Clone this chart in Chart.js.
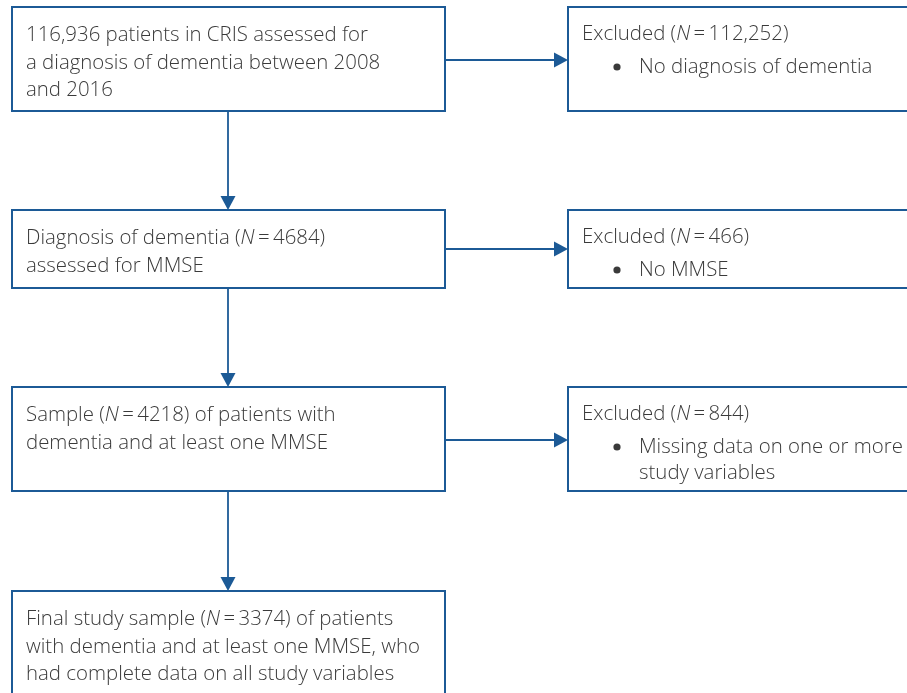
<!DOCTYPE html>
<html>
<head>
<meta charset="utf-8">
<title>Study flow</title>
<script src="https://cdn.jsdelivr.net/npm/chart.js@4.4.1/dist/chart.umd.min.js"></script>
<style>
  html, body { margin: 0; padding: 0; background: #fff; }
  #wrap { width: 907px; height: 693px; }
</style>
</head>
<body>
<div id="wrap"><canvas id="flow" width="907" height="693"></canvas></div>
<script>
// ===============================
// DATA
// ===============================

const stageCounts = [116936, 4684, 4218, 3374];
const excludedCounts = [112252, 466, 844];
const studyYears = [2008, 2016];
const excludedReasons = [
  ["No diagnosis of dementia"],
  ["No MMSE"],
  ["Missing data on one or more", "study variables"]
];

// ===============================
// LAYOUT (scale units = px of the 907x693 page)
// ===============================

const BLUE = "#1c5a96";
const TEXT = "#3a3a3a";
const FONT = "'Open Sans', 'Noto Sans', sans-serif";
const FONT_WEIGHT = 300;
const FONT_SIZE = 21;
const FIRST_LINE_WIDTH = 342;   // width of the first line in the picture

const leftCol = { x0: 12, x1: 445, arrowX: 228 };
const rightCol = { x0: 568, x1: 920 };
const rows = [
  { top: 7, bottom: 111, arrowY: 60 },
  { top: 210, bottom: 288, arrowY: 249 },
  { top: 387, bottom: 491, arrowY: 440 },
  { top: 591, bottom: 705 }
];

function fmt(n) {
  return n >= 10000 ? n.toLocaleString("en-US") : String(n);
}

function nTag(n) {
  return ["(", { i: "N" }, "\u2009=\u2009" + fmt(n) + ")"];
}

const stageLines = [
  [
    [fmt(stageCounts[0]) + " patients in CRIS assessed for"],
    ["a diagnosis of dementia between " + studyYears[0]],
    ["and " + studyYears[1]]
  ],
  [
    ["Diagnosis of dementia ", ...nTag(stageCounts[1])],
    ["assessed for MMSE"]
  ],
  [
    ["Sample ", ...nTag(stageCounts[2]), " of patients with"],
    ["dementia and at least one MMSE"]
  ],
  [
    ["Final study sample ", ...nTag(stageCounts[3]), " of patients"],
    ["with dementia and at least one MMSE, who"],
    ["had complete data on all study variables"]
  ]
];

// ===============================
// DRAWING HELPERS
// ===============================

let squeeze = 1;

function setFont(ctx, italic) {
  ctx.font = (italic ? "italic " : "") + FONT_WEIGHT + " " + FONT_SIZE + "px " + FONT;
}

function drawLine(ctx, segs, x, y) {
  ctx.save();
  ctx.translate(x, y);
  ctx.scale(squeeze, 1);
  let cx = 0;
  segs.forEach(seg => {
    const italic = typeof seg !== "string";
    const t = italic ? seg.i : seg;
    setFont(ctx, italic);
    ctx.fillText(t, cx, 0);
    cx += ctx.measureText(t).width;
  });
  ctx.restore();
}

function arrowDown(ctx, x, y0, y1) {
  ctx.beginPath();
  ctx.moveTo(x, y0);
  ctx.lineTo(x, y1 - 10);
  ctx.stroke();
  ctx.beginPath();
  ctx.moveTo(x - 7.5, y1 - 14);
  ctx.lineTo(x + 7.5, y1 - 14);
  ctx.lineTo(x, y1);
  ctx.closePath();
  ctx.fill();
}

function arrowRight(ctx, x0, x1, y) {
  ctx.beginPath();
  ctx.moveTo(x0, y);
  ctx.lineTo(x1 - 10, y);
  ctx.stroke();
  ctx.beginPath();
  ctx.moveTo(x1 - 14, y - 7.5);
  ctx.lineTo(x1 - 14, y + 7.5);
  ctx.lineTo(x1, y);
  ctx.closePath();
  ctx.fill();
}

// ===============================
// FLOW PLUGIN
// ===============================

const flowPlugin = {
  id: "flow",
  afterDraw(chart) {
    const ctx = chart.ctx;
    const sx = chart.scales.x;
    const sy = chart.scales.y;
    const X = v => sx.getPixelForValue(v);
    const Y = v => sy.getPixelForValue(v);

    setFont(ctx, false);
    squeeze = FIRST_LINE_WIDTH / ctx.measureText(stageLines[0][0].join("")).width;

    ctx.save();
    ctx.textBaseline = "alphabetic";
    ctx.textAlign = "left";

    // arrows
    ctx.strokeStyle = BLUE;
    ctx.fillStyle = BLUE;
    ctx.lineWidth = 1.8;
    for (let r = 0; r < rows.length - 1; r++) {
      arrowDown(ctx, X(leftCol.arrowX), Y(rows[r].bottom), Y(rows[r + 1].top));
      arrowRight(ctx, X(leftCol.x1), X(rightCol.x0), Y(rows[r].arrowY));
    }

    // main boxes
    ctx.lineWidth = 2;
    rows.forEach((row, r) => {
      ctx.strokeStyle = BLUE;
      ctx.strokeRect(X(leftCol.x0), Y(row.top), X(leftCol.x1) - X(leftCol.x0), Y(row.bottom) - Y(row.top));
      ctx.fillStyle = TEXT;
      stageLines[r].forEach((segs, i) => {
        drawLine(ctx, segs, X(leftCol.x0 + 14), Y(row.top + 34 + i * 27.5));
      });
    });

    // excluded boxes
    excludedCounts.forEach((n, r) => {
      const row = rows[r];
      ctx.strokeStyle = BLUE;
      ctx.strokeRect(X(rightCol.x0), Y(row.top), X(rightCol.x1) - X(rightCol.x0), Y(row.bottom) - Y(row.top));
      ctx.fillStyle = TEXT;
      drawLine(ctx, ["Excluded ", ...nTag(n)], X(rightCol.x0 + 14), Y(row.top + 33));
      excludedReasons[r].forEach((line, i) => {
        const by = row.top + 66 + i * 26;
        if (i === 0) {
          ctx.beginPath();
          ctx.arc(X(rightCol.x0 + 49), Y(by - 6), 3.6, 0, Math.PI * 2);
          ctx.fill();
        }
        drawLine(ctx, [line], X(rightCol.x0 + 71), Y(by));
      });
    });

    ctx.restore();
  }
};

// ===============================
// CHART
// ===============================

new Chart(document.getElementById("flow"), {
  type: "scatter",
  data: { datasets: [{ data: [], pointRadius: 0 }] },
  options: {
    responsive: false,
    animation: false,
    events: [],
    layout: { padding: 0 },
    plugins: { legend: { display: false }, tooltip: { enabled: false } },
    scales: {
      x: { type: "linear", min: 0, max: 907, display: false },
      y: { type: "linear", min: 0, max: 693, reverse: true, display: false }
    }
  },
  plugins: [flowPlugin]
});
</script>
</body>
</html>
